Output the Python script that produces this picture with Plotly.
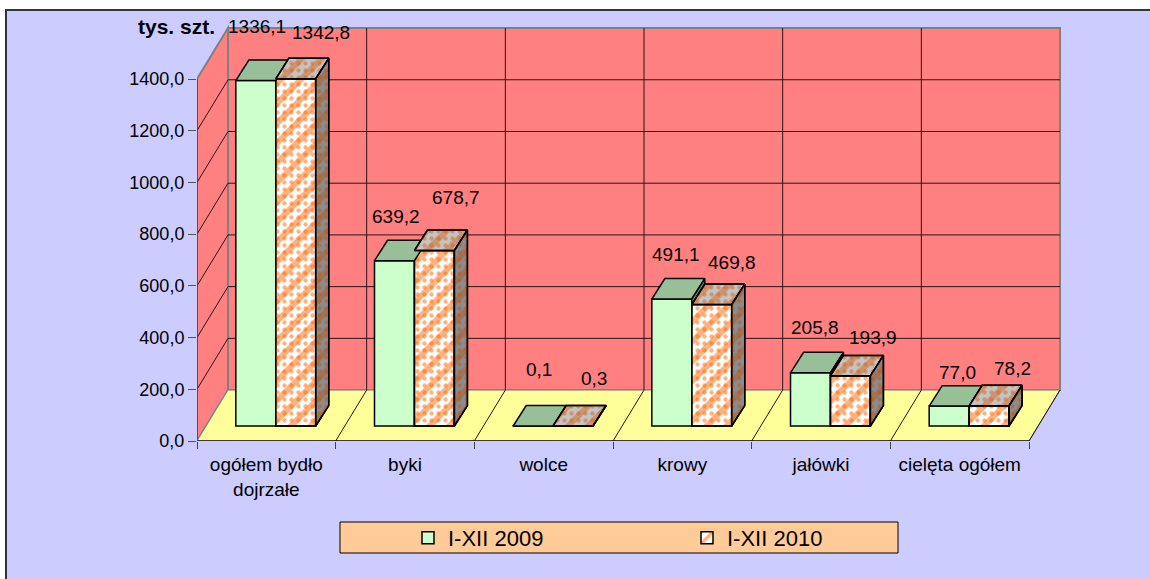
"""Pseudo-3D clustered columns: cattle purchase, I-XII 2009 vs I-XII 2010."""

import plotly.graph_objects as go

# --------------------------------------------------------------------------- #
# Data
# --------------------------------------------------------------------------- #
CATEGORIES = ["ogółem bydło<br>dojrzałe", "byki", "wolce", "krowy", "jałówki", "cielęta ogółem"]
VALUES_2009 = [1336.1, 639.2, 0.1, 491.1, 205.8, 77.0]
VALUES_2010 = [1342.8, 678.7, 0.3, 469.8, 193.9, 78.2]
Y_TICKS = [0, 200, 400, 600, 800, 1000, 1200, 1400]
SERIES_NAMES = ["I-XII 2009", "I-XII 2010"]

# Excel hand-placed these labels, so they sit at odd distances from the bars (px)
LABEL_SHIFT_2009 = [(1, 54), (2, 44), (6, 56), (4, 45), (5, 45), (8, 34)]
LABEL_SHIFT_2010 = [(25, 46), (22, 53), (21, 47), (20, 42), (23, 38), (23, 37)]

# --------------------------------------------------------------------------- #
# Look
# --------------------------------------------------------------------------- #
FONT = "Liberation Sans, Arial, sans-serif"
LAVENDER = "#CCCCFF"
WALL = "#FF8080"
FLOOR = "#FFFF99"
EDGE = "#808080"
GRID = "#2a1414"
GREEN = "#CCFFCC"
GREEN_TOP = "#99BF99"
GREEN_SIDE = "#668066"
ORANGE = "#FF6600"
CLEAR = "rgba(0,0,0,0)"
STRIPE = dict(shape="/", size=14, solidity=0.42)
DOTS = dict(shape=".", size=7, solidity=0.3)

# plot area in page pixels: x=0 at 197, one category = 138.67 px,
# y=0 at 441, 1400 at 79
LEFT, BOTTOM, RIGHT, TOP = 197, 441, 1065, 25
PLOT_W, PLOT_H = RIGHT - LEFT, BOTTOM - TOP
X_RANGE = PLOT_W / 138.67
Y_RANGE = PLOT_H / ((441 - 79) / 1400)

WALL_DX, WALL_DY = 0.2235, 197  # depth of the whole box
BAR_DX, BAR_DY = 0.094, 79  # depth of one column
BAR_SHIFT_X, BAR_LIFT = 0.28, 58  # columns stand inside the floor, not on its edge
BAR_W = 0.288
N = len(CATEGORIES)


def paper_x(px):
    return (px - LEFT) / PLOT_W


def paper_y(px):
    return (BOTTOM - px) / PLOT_H


def bar_left(i, series):
    return i + BAR_SHIFT_X + series * BAR_W


def polygons(polys):
    """Join polygons into one x/y pair, separated by gaps, for a fill trace."""
    xs, ys = [], []
    for poly in polys:
        xs += [p[0] for p in poly] + [poly[0][0], None]
        ys += [p[1] for p in poly] + [poly[0][1], None]
    return xs, ys


def top_face(i, series, value):
    x0, y0 = bar_left(i, series), value + BAR_LIFT
    return [(x0, y0), (x0 + BAR_W, y0), (x0 + BAR_W + BAR_DX, y0 + BAR_DY), (x0 + BAR_DX, y0 + BAR_DY)]


def side_face(i, series, low, high):
    x0 = bar_left(i, series) + BAR_W
    return [
        (x0, low + BAR_LIFT),
        (x0, high + BAR_LIFT),
        (x0 + BAR_DX, high + BAR_LIFT + BAR_DY),
        (x0 + BAR_DX, low + BAR_LIFT + BAR_DY),
    ]


def poly_shape(points, fill, line_color, width=1):
    path = "M" + " L".join(f"{x},{y}" for x, y in points) + " Z"
    return dict(type="path", path=path, xref="x", yref="y", fillcolor=fill,
                line=dict(color=line_color, width=width), layer="below")


def seg_shape(x0, y0, x1, y1, color=GRID, width=1):
    return dict(type="line", x0=x0, y0=y0, x1=x1, y1=y1, xref="x", yref="y",
                line=dict(color=color, width=width), layer="below")


def box_shapes():
    """Back wall, left wall, floor and their grid lines, from the axis ticks."""
    y_max = Y_TICKS[-1]
    shapes = [
        poly_shape([(WALL_DX, WALL_DY), (N + WALL_DX, WALL_DY), (N + WALL_DX, y_max + WALL_DY),
                    (WALL_DX, y_max + WALL_DY)], WALL, EDGE, 2),
        poly_shape([(0, 0), (0, y_max), (WALL_DX, y_max + WALL_DY), (WALL_DX, WALL_DY)], WALL, EDGE, 2),
        poly_shape([(0, 0), (N, 0), (N + WALL_DX, WALL_DY), (WALL_DX, WALL_DY)], FLOOR, EDGE, 1),
    ]
    for v in Y_TICKS[1:-1]:
        shapes.append(seg_shape(0, v, WALL_DX, v + WALL_DY))
        shapes.append(seg_shape(WALL_DX, v + WALL_DY, N + WALL_DX, v + WALL_DY))
    shapes.append(seg_shape(WALL_DX, y_max + WALL_DY, N + WALL_DX, y_max + WALL_DY, EDGE, 2))
    for k in range(1, N):
        shapes.append(seg_shape(k + WALL_DX, WALL_DY, k + WALL_DX, y_max + WALL_DY))
        shapes.append(seg_shape(k, 0, k + WALL_DX, WALL_DY))
    shapes.append(seg_shape(0, 0, N, 0, "#111111", 1.5))
    shapes.append(seg_shape(N, 0, N + WALL_DX, WALL_DY, "#111111", 1))
    shapes.append(seg_shape(0, 0, 0, y_max, "#444444", 1.5))
    return shapes


def add_patterned_faces(fig, polys, fg, bg):
    """Stripe fill plus a second pass of dots, same weave as the column fronts."""
    xs, ys = polygons(polys)
    fig.add_scatter(x=xs, y=ys, mode="lines", fill="toself", line=face_line, showlegend=False, hoverinfo="skip",
                    fillpattern=dict(**STRIPE, fgcolor=fg, bgcolor=bg))
    fig.add_scatter(x=xs, y=ys, mode="lines", fill="toself", line=face_line, showlegend=False, hoverinfo="skip",
                    fillpattern=dict(**DOTS, fgcolor=fg, bgcolor=CLEAR))


x_centers = list(range(N))
x_2009 = [bar_left(i, 0) + BAR_W / 2 for i in x_centers]
x_2010 = [bar_left(i, 1) + BAR_W / 2 for i in x_centers]
bar_line = dict(color="#000000", width=1.5)
face_line = dict(color="#000000", width=1.5)

fig = go.Figure()

# fronts
fig.add_bar(x=x_2009, y=VALUES_2009, base=BAR_LIFT, width=BAR_W, name=SERIES_NAMES[0],
            marker=dict(color=GREEN, line=bar_line))
fig.add_bar(x=x_2010, y=VALUES_2010, base=BAR_LIFT, width=BAR_W, name=SERIES_NAMES[1],
            marker=dict(color="white", line=bar_line,
                        pattern=dict(**STRIPE, fgcolor=ORANGE, bgcolor="white")))
# the dotted rows between the stripes land midway when the dot cell is half the stripe cell
fig.add_bar(x=x_2010, y=VALUES_2010, base=BAR_LIFT, width=BAR_W, showlegend=False, hoverinfo="skip",
            marker=dict(color=CLEAR, line=bar_line,
                        pattern=dict(**DOTS, fgcolor=ORANGE, bgcolor=CLEAR)))

# tops and sides
xs, ys = polygons([top_face(i, 0, v) for i, v in enumerate(VALUES_2009)])
fig.add_scatter(x=xs, y=ys, mode="lines", fill="toself", fillcolor=GREEN_TOP, line=face_line,
                showlegend=False, hoverinfo="skip")
xs, ys = polygons([side_face(i, 0, b, a) for i, (a, b) in enumerate(zip(VALUES_2009, VALUES_2010)) if a > b])
fig.add_scatter(x=xs, y=ys, mode="lines", fill="toself", fillcolor=GREEN_SIDE, line=face_line,
                showlegend=False, hoverinfo="skip")
add_patterned_faces(fig, [top_face(i, 1, v) for i, v in enumerate(VALUES_2010)], "#D2651E", "#C4C4C4")
add_patterned_faces(fig, [side_face(i, 1, 0, v) for i, v in enumerate(VALUES_2010)], "#B35A1F", "#8C8C8C")

# value labels
annotations = []
for xs_, vals, shifts in ((x_2009, VALUES_2009, LABEL_SHIFT_2009), (x_2010, VALUES_2010, LABEL_SHIFT_2010)):
    for x, v, (dx, dy) in zip(xs_, vals, shifts):
        annotations.append(dict(x=x, y=v + BAR_LIFT, text=f"{v:.1f}".replace(".", ","), showarrow=False,
                                xshift=dx, yshift=dy, font=dict(size=19, color="#000000")))
annotations.append(dict(x=paper_x(136), y=paper_y(27), xref="paper", yref="paper", text="<b>tys. szt.</b>",
                        showarrow=False, xanchor="left", yanchor="middle", font=dict(size=21, color="#000000")))

frame = dict(type="rect", xref="paper", yref="paper", x0=paper_x(6), y0=paper_y(584), x1=paper_x(1155),
             y1=paper_y(10), fillcolor=LAVENDER, line=dict(color="#333340", width=2), layer="below")
legend_box = dict(type="rect", xref="paper", yref="paper", x0=paper_x(340), y0=paper_y(553), x1=paper_x(898),
                  y1=paper_y(522), fillcolor="#FFCC99", line=dict(color="#000000", width=1), layer="below")

fig.update_layout(
    width=1150,
    height=579,
    margin=dict(l=LEFT, r=1150 - RIGHT, t=TOP, b=579 - BOTTOM),
    paper_bgcolor="white",
    plot_bgcolor=CLEAR,
    barmode="overlay",
    separators=",.",
    font=dict(family=FONT, color="#000000", size=17),
    shapes=[frame, legend_box] + box_shapes(),
    annotations=annotations,
    legend=dict(
        orientation="h",
        x=paper_x(408),
        y=paper_y(517),
        xanchor="left",
        yanchor="top",
        bgcolor=CLEAR,
        borderwidth=0,
        entrywidth=234,
        entrywidthmode="pixels",
        font=dict(size=22),
        traceorder="normal",
    ),
    xaxis=dict(
        range=[0, X_RANGE],
        tickvals=[i + 0.5 for i in x_centers],
        ticktext=CATEGORIES,
        ticks="",
        showgrid=False,
        zeroline=False,
        showline=False,
        tickfont=dict(size=19),
        ticklabelstandoff=10,
        minor=dict(tickvals=list(range(N + 1)), ticks="outside", ticklen=7, tickcolor="#444444", showgrid=False),
    ),
    yaxis=dict(
        range=[0, Y_RANGE],
        tickvals=Y_TICKS,
        tickformat=".1f",
        ticks="outside",
        ticklen=8,
        tickcolor="#555555",
        showgrid=False,
        zeroline=False,
        showline=False,
        tickfont=dict(size=18),
    ),
)

fig.write_html("out.html", config=dict(displayModeBar=False), post_script="document.body.style.margin='0';")
